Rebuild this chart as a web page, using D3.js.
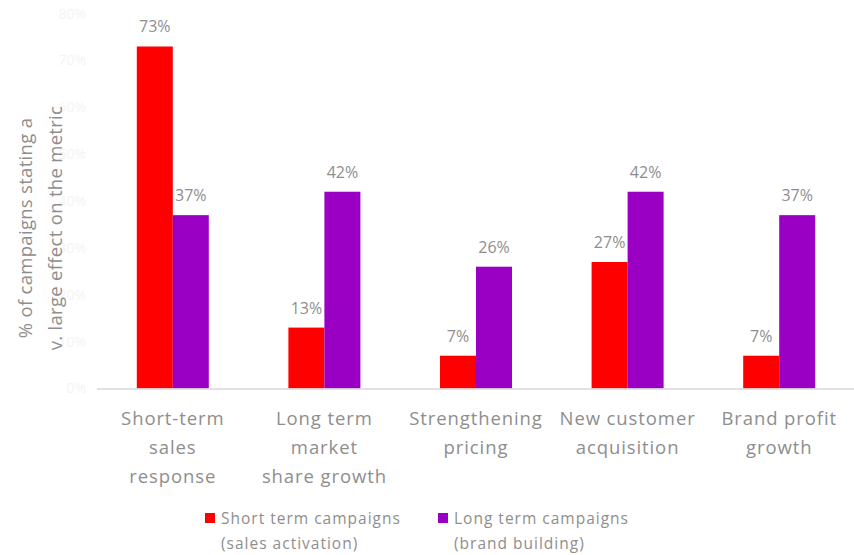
<!DOCTYPE html>
<html>
<head>
<meta charset="utf-8">
<script src="https://cdn.jsdelivr.net/npm/d3@7/dist/d3.min.js"></script>
<style>
  html, body { margin: 0; padding: 0; background: #ffffff; }
  svg { display: block; font-family: "Open Sans", "Noto Sans", sans-serif; }
</style>
</head>
<body>
<svg id="chart" width="854" height="555"></svg>
<script>
// Metrics (x-axis categories), each label split into its display lines
const categories = [
  ["Short-term", "sales", "response"],
  ["Long term", "market", "share growth"],
  ["Strengthening", "pricing"],
  ["New customer", "acquisition"],
  ["Brand profit", "growth"]
];
// % of campaigns stating a very large effect on each metric
const shortTerm = [73, 13, 7, 27, 7];
const longTerm  = [37, 42, 26, 42, 37];
const seriesNames = [
  ["Short term campaigns", "(sales activation)"],
  ["Long term campaigns", "(brand building)"]
];
const seriesColors = ["#ff0000", "#9900c4"];
const yTicks = [0, 10, 20, 30, 40, 50, 60, 70, 80];

const svg = d3.select("#chart");
const textGrey = "#8e8e8e";

const x0 = d3.scaleBand()
  .domain(d3.range(categories.length))
  .range([97, 855])
  .paddingInner(0)
  .paddingOuter(0);
const groupW = 72;
const x1 = d3.scaleBand()
  .domain([0, 1])
  .range([0, groupW]);
const y = d3.scaleLinear().domain([0, 80]).range([388.5, 13.7]);

// faint y tick labels
svg.append("g").selectAll("text")
  .data(yTicks).join("text")
  .attr("x", 86)
  .attr("y", d => y(d))
  .attr("dy", "0.35em")
  .attr("text-anchor", "end")
  .attr("font-size", 14)
  .attr("fill", "#f4f4f4")
  .text(d => d + "%");

// bars
const series = [shortTerm, longTerm];
const groups = svg.append("g").selectAll("g")
  .data(categories.map((c, i) => i)).join("g")
  .attr("transform", i => `translate(${x0(i) + (x0.bandwidth() - groupW) / 2},0)`);

groups.selectAll("rect")
  .data(i => series.map((s, k) => ({ k, v: s[i] })))
  .join("rect")
  .attr("x", d => x1(d.k))
  .attr("width", x1.bandwidth())
  .attr("y", d => y(d.v))
  .attr("height", d => y(0) - y(d.v))
  .attr("fill", d => seriesColors[d.k]);

groups.selectAll("text.val")
  .data(i => series.map((s, k) => ({ k, v: s[i] })))
  .join("text")
  .attr("class", "val")
  .attr("x", d => x1(d.k) + x1.bandwidth() / 2)
  .attr("y", d => y(d.v) - 14)
  .attr("text-anchor", "middle")
  .attr("font-size", 16)
  .attr("fill", textGrey)
  .text(d => d.v + "%");

// baseline
svg.append("line")
  .attr("x1", 97).attr("x2", 855)
  .attr("y1", y(0) + 0.5).attr("y2", y(0) + 0.5)
  .attr("stroke", "#d9d9d9")
  .attr("stroke-width", 1.5);

// category labels
const catG = svg.append("g").selectAll("text")
  .data(categories).join("text")
  .attr("text-anchor", "middle")
  .attr("font-size", 18.5)
  .attr("letter-spacing", 0.9)
  .attr("fill", textGrey);
catG.selectAll("tspan")
  .data((d, i) => d.map(line => ({ line, i })))
  .join("tspan")
  .attr("x", d => x0(d.i) + x0.bandwidth() / 2)
  .attr("y", (d, j) => 425 + j * 29)
  .text(d => d.line);

// y-axis title
const yTitle = svg.append("text")
  .attr("transform", "translate(0,228) rotate(-90)")
  .attr("text-anchor", "middle")
  .attr("font-size", 18.5)
  .attr("letter-spacing", 0.3)
  .attr("fill", textGrey);
yTitle.append("tspan").attr("x", 0).attr("y", 32).text("% of campaigns stating a");
yTitle.append("tspan").attr("x", 0).attr("y", 62).text("v. large effect on the metric");

// legend
const legendX = [205, 438];
const leg = svg.append("g").selectAll("g")
  .data(seriesNames).join("g")
  .attr("transform", (d, i) => `translate(${legendX[i]},0)`);
leg.append("rect")
  .attr("x", 0).attr("y", 513)
  .attr("width", 10).attr("height", 10)
  .attr("fill", (d, i) => seriesColors[i]);
leg.append("text")
  .attr("font-size", 15.5)
  .attr("letter-spacing", 1)
  .attr("fill", textGrey)
  .selectAll("tspan")
  .data(d => d).join("tspan")
  .attr("x", 16)
  .attr("y", (d, j) => 524 + j * 25)
  .text(d => d);
</script>
</body>
</html>
